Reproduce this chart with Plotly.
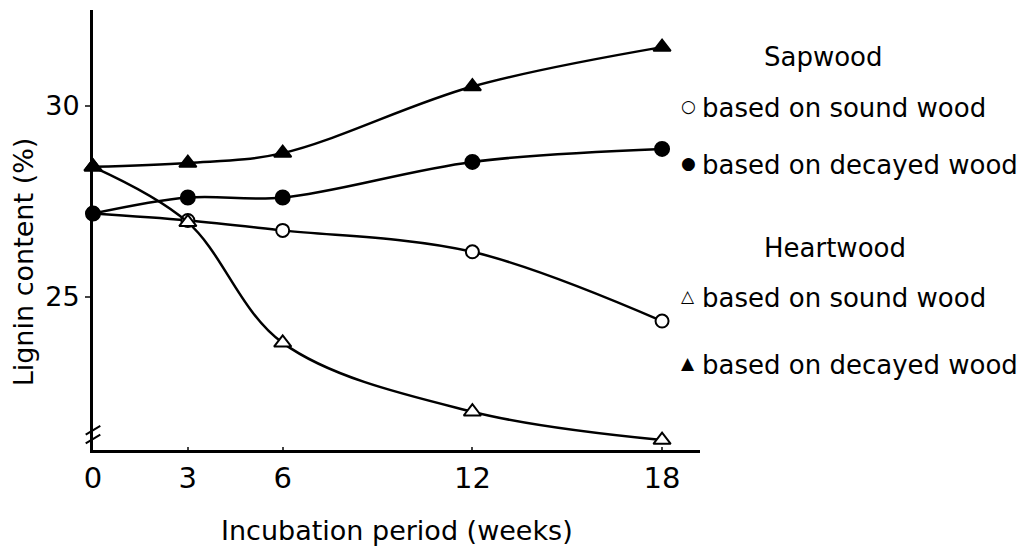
import plotly.graph_objects as go

weeks = [0, 3, 6, 12, 18]
sap_sound = [27.18, 27.0, 26.74, 26.18, 24.37]
sap_decayed = [27.18, 27.6, 27.6, 28.53, 28.87]
heart_sound = [28.4, 26.95, 23.8, 22.0, 21.26]
heart_decayed = [28.4, 28.5, 28.76, 30.5, 31.53]

x_ticks = [0, 3, 6, 12, 18]
y_ticks = [25, 30]

FONT = "DejaVu Sans"
fig = go.Figure()

series = [
    (sap_sound, "circle", "white", 13),
    (sap_decayed, "circle", "black", 14),
    (heart_sound, "triangle-up", "white", 15),
    (heart_decayed, "triangle-up", "black", 15),
]
for ys, sym, fill, sz in series:
    fig.add_trace(go.Scatter(
        x=weeks, y=ys, mode="lines+markers",
        line=dict(color="black", width=2.5, shape="spline", smoothing=1.0),
        marker=dict(symbol=sym, size=sz, color=fill, line=dict(color="black", width=2)),
        cliponaxis=False, showlegend=False,
    ))

fig.update_layout(
    width=1031, height=547,
    margin=dict(l=93, r=331, t=10, b=97, autoexpand=False),
    paper_bgcolor="white", plot_bgcolor="white",
    font=dict(family=FONT, color="black"),
    xaxis=dict(range=[0, 19.2], tickvals=x_ticks, ticktext=[str(v) for v in x_ticks],
               showgrid=False, zeroline=False, showline=True, linecolor="black", linewidth=3,
               ticks="inside", ticklen=3, tickwidth=2, tickfont=dict(size=29)),
    yaxis=dict(range=[21, 32.5], tickvals=y_ticks, ticktext=[str(v) for v in y_ticks],
               showgrid=False, zeroline=False, showline=True, linecolor="black", linewidth=3,
               ticks="outside", ticklen=5, tickwidth=2, tickfont=dict(size=27)),
)

# axis titles
fig.add_annotation(text="Incubation period (weeks)", xref="paper", yref="paper", x=0.5, y=-0.182,
                   xanchor="center", yanchor="middle", showarrow=False,
                   font=dict(size=27, family=FONT))
fig.add_annotation(text="Lignin content (%)", xref="paper", yref="paper", x=-0.115, y=0.427,
                   xanchor="center", yanchor="middle", textangle=-90, showarrow=False,
                   font=dict(size=27, family=FONT))

# axis break marks
fig.add_shape(type="line", xref="paper", yref="paper", x0=-0.012, x1=0.012, y0=0.035, y1=0.055,
              line=dict(color="black", width=2))
fig.add_shape(type="line", xref="paper", yref="paper", x0=-0.012, x1=0.012, y0=0.015, y1=0.035,
              line=dict(color="black", width=2))

headers = [("Sapwood", 0.893), ("Heartwood", 0.459)]
item_symbols = ["\u25cb", "\u25cf", "\u25b3", "\u25b2"]
item_texts = ["based on sound wood", "based on decayed wood",
              "based on sound wood", "based on decayed wood"]
item_y = [0.777, 0.648, 0.345, 0.193]
for txt, yy in headers:
    fig.add_annotation(text=txt, xref="paper", yref="paper", x=1.102, xanchor="left",
                       y=yy, yanchor="middle", showarrow=False, font=dict(size=26, family=FONT))
for sym, txt, yy in zip(item_symbols, item_texts, item_y):
    fig.add_annotation(text=sym, xref="paper", yref="paper", x=0.965, xanchor="left",
                       y=yy + 0.004, yanchor="middle", showarrow=False, font=dict(size=17, family=FONT))
    fig.add_annotation(text=txt, xref="paper", yref="paper", x=1.0, xanchor="left",
                       y=yy, yanchor="middle", showarrow=False, font=dict(size=26, family=FONT))

fig.write_html("out.html", config={"displayModeBar": False},
               post_script="document.body.style.margin='0';document.body.style.overflow='hidden';")
